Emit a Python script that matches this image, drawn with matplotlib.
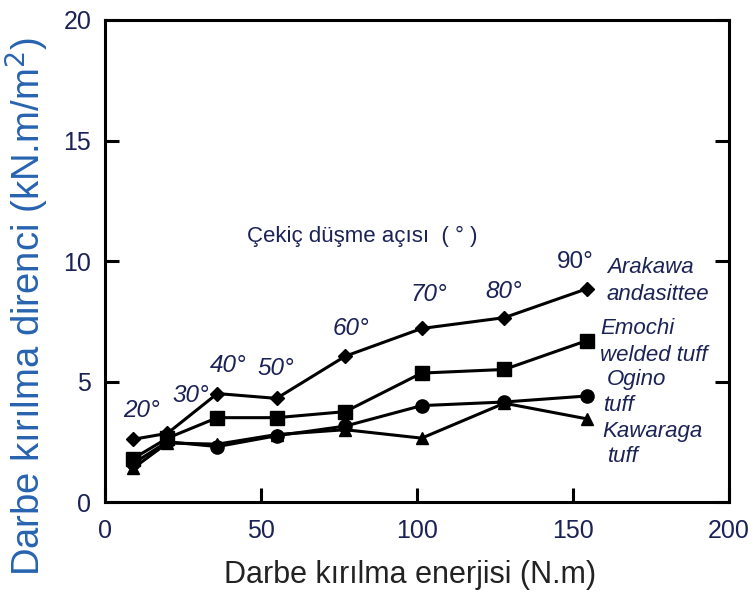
import matplotlib
matplotlib.use("Agg")
import matplotlib.pyplot as plt

plt.rcParams['font.family'] = ['Liberation Sans', 'DejaVu Sans']

# Impact energy (N.m) for each hammer drop angle
energy = [9, 20, 36, 55, 77, 101.5, 128, 154.5]
angles = ["20°", "30°", "40°", "50°", "60°", "70°", "80°", "90°"]

# Impact fracture resistance (kN.m/m2) per rock type
arakawa = [2.6, 2.85, 4.5, 4.3, 6.05, 7.2, 7.65, 8.85]
emochi = [1.8, 2.65, 3.5, 3.5, 3.75, 5.35, 5.5, 6.7]
ogino = [1.6, 2.5, 2.3, 2.75, 3.15, 4.0, 4.15, 4.4]
kawaraga = [1.4, 2.45, 2.4, 2.8, 3.0, 2.65, 4.1, 3.45]

series_names = [("Arakawa", "andasittee"), ("Emochi", "welded tuff"),
                ("Ogino", "tuff"), ("Kawaraga", "tuff")]

navy = "#1b2255"
blue = "#2763b0"

fig = plt.figure(figsize=(7.54, 5.97), dpi=100)
ax = fig.add_axes([0.1393, 0.1591, 0.8275, 0.8074])

lw = 2.2
ax.plot(energy, arakawa, color="black", lw=lw, marker="D", ms=7.5, zorder=3)
ax.plot(energy, emochi, color="black", lw=lw, marker="s", ms=10, zorder=3)
ax.plot(energy, ogino, color="black", lw=lw, marker="o", ms=9.5, zorder=3)
ax.plot(energy, kawaraga, color="black", lw=lw, marker="^", ms=9, zorder=3)

ax.set_xlim(0, 200)
ax.set_ylim(0, 20)
ax.set_xticks([0, 50, 100, 150, 200])
ax.set_yticks([0, 5, 10, 15, 20])

for sp in ax.spines.values():
    sp.set_linewidth(2.2)

ax.tick_params(axis="both", direction="in", length=10, width=2.2,
               labelsize=18, labelcolor=navy, right=True)
ax.tick_params(axis="x", pad=12)
ax.tick_params(axis="y", pad=10)

fig.text(0.036, 0.486, "Darbe kırılma direnci (kN.m/m$^2$)", rotation=90,
         ha="center", va="center", fontsize=27.5, color=blue)
fig.text(0.544, 0.037, "Darbe kırılma enerjisi (N.m)", ha="center",
         va="center", fontsize=22, color="#222222")

# Drop-angle labels above the Arakawa curve
angle_pos = [(5.8, 3.8), (21.5, 4.4), (33.7, 5.65), (48.7, 5.55),
             (72.8, 7.2), (97.8, 8.6), (121.8, 8.75), (144.9, 9.95)]
for lab, (xx, yy) in zip(angles, angle_pos):
    style = "normal" if lab == "90°" else "italic"
    ax.text(xx, yy, lab, fontsize=17.5, style=style, color=navy,
            ha="left", va="center")

ax.text(45.5, 11.0, "Çekiç düşme açısı  ( ° )", fontsize=16, color=navy,
        ha="left", va="center")

# Rock type names at the right end of each curve
name_pos = [((160.9, 9.71), (160.6, 8.63)),
            ((158.7, 7.21), (158.7, 6.08)),
            ((160.9, 5.10), (159.9, 4.0)),
            ((159.3, 2.92), (161.2, 1.88))]
for (l1, l2), (p1, p2) in zip(series_names, name_pos):
    ax.text(p1[0], p1[1], l1, fontsize=16, style="italic", color=navy,
            ha="left", va="center")
    ax.text(p2[0], p2[1], l2, fontsize=16, style="italic", color=navy,
            ha="left", va="center")

fig.savefig("out.png", dpi=100)
